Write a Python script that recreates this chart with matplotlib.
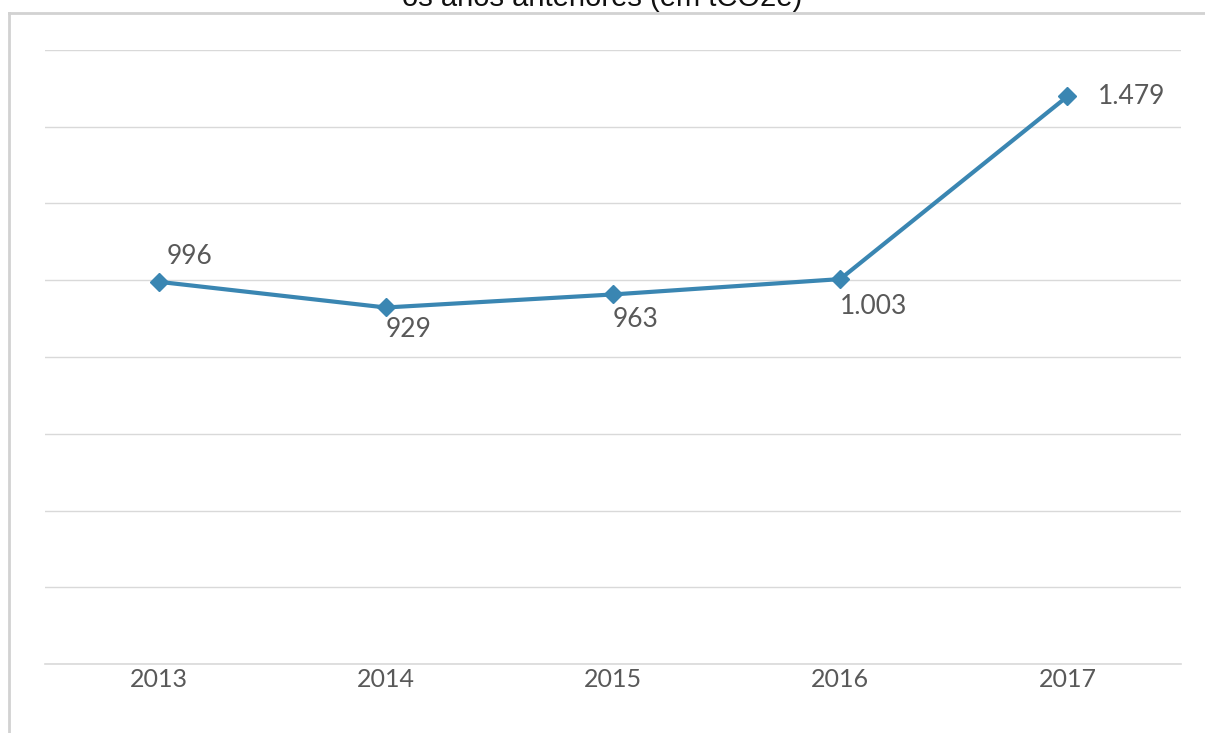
import matplotlib.pyplot as plt
from matplotlib.lines import Line2D

years = ['2013', '2014', '2015', '2016', '2017']
emissions = [996, 929, 963, 1003, 1479]
value_labels = ['996', '929', '963', '1.003', '1.479']
# where each value label sits relative to its point (points offset, ha, va)
label_offsets = [(6, 9, 'left', 'bottom'),
                 (0, -7, 'left', 'top'),
                 (0, -9, 'left', 'top'),
                 (0, -11, 'left', 'top'),
                 (22, 0, 'left', 'center')]

line_color = '#3A86B2'
text_gray = '#595959'
grid_gray = '#D9D9D9'

fig = plt.figure(figsize=(12.05, 7.33), dpi=100)
ax = fig.add_axes([45 / 1205, 69 / 733, 1136 / 1205, 614 / 733])

x = list(range(len(years)))
ax.plot(x, emissions, color=line_color, linewidth=3, marker='D',
        markersize=9, zorder=3)

for xi, val, lab, (dx, dy, ha, va) in zip(x, emissions, value_labels, label_offsets):
    ax.annotate(lab, (xi, val), xytext=(dx, dy), textcoords='offset points',
                ha=ha, va=va, fontsize=19, color=text_gray, family='Lato')

ax.set_xlim(-0.5, len(years) - 0.5)
ax.set_ylim(0, 1600)
ax.set_yticks(range(0, 1601, 200))
ax.set_yticklabels([])
ax.set_xticks(x)
ax.set_xticklabels(years, fontsize=18, color=text_gray, family='Lato')
ax.tick_params(axis='both', length=0)
ax.tick_params(axis='x', pad=3)
ax.grid(axis='y', color=grid_gray, linewidth=1)
ax.axhline(0, color=grid_gray, linewidth=1.2, clip_on=False, zorder=1)
ax.set_axisbelow(True)
for s in ax.spines.values():
    s.set_visible(False)

# chart frame, partly running off the figure edges
frame = dict(color='#D2D2D2', linewidth=2, transform=fig.transFigure)
fig.add_artist(Line2D([8.5 / 1205, 1.0], [1 - 13 / 733, 1 - 13 / 733], **frame))
fig.add_artist(Line2D([8.5 / 1205, 8.5 / 1205], [0, 1 - 13 / 733], **frame))

# title, cut off at the top
fig.text(0.5, 1 - 6 / 733, 'os anos anteriores (em tCO2e)', ha='center',
         va='baseline', fontsize=21, family='Liberation Sans', color='#111111')

fig.savefig('out.png', dpi=100, facecolor='white')
